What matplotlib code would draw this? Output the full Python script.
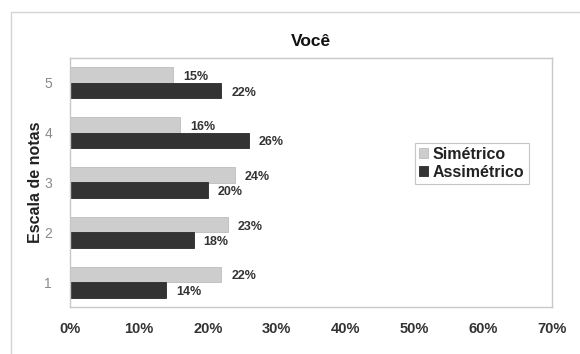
import numpy as np
import matplotlib.pyplot as plt
from matplotlib.patches import Rectangle

plt.rcParams['font.family'] = ['Liberation Sans', 'DejaVu Sans']

# Dados: escala de notas 1..5, percentuais por tipo
notas = [1, 2, 3, 4, 5]
simetrico = [22, 23, 24, 16, 15]
assimetrico = [14, 18, 20, 26, 22]
xticks = [0, 10, 20, 30, 40, 50, 60, 70]

fig = plt.figure(figsize=(5.8, 3.54), dpi=100)
fig.patch.set_facecolor('white')

# moldura externa do grafico
fig.patches.append(Rectangle((11 / 580, -0.05), 1.0, 1 - 12 / 354 + 0.05,
                             transform=fig.transFigure, fill=False,
                             edgecolor='#d4d4d4', linewidth=1.0))

ax = fig.add_axes([70 / 580, 1 - 307 / 354, (552 - 70) / 580, (307 - 58) / 354])

y = np.array(notas, dtype=float)
h = 0.31
ax.barh(y + h / 2, simetrico, height=h, color='#cdcdcd', edgecolor='#bdbdbd',
        linewidth=0.6, label='Simétrico')
ax.barh(y - h / 2, assimetrico, height=h, color='#333333', edgecolor='#2a2a2a',
        linewidth=0.6, label='Assimétrico')

for yi, v in zip(y, simetrico):
    ax.text(v + 1.4, yi + h / 2 - 0.04, f'{v}%', va='center', ha='left',
            fontsize=9, fontweight='bold', color='#333333')
for yi, v in zip(y, assimetrico):
    ax.text(v + 1.4, yi - h / 2 - 0.04, f'{v}%', va='center', ha='left',
            fontsize=9, fontweight='bold', color='#333333')

ax.set_xlim(0, 70)
ax.set_ylim(0.5, 5.5)
ax.set_xticks(xticks)
ax.set_xticklabels([f'{t}%' for t in xticks], fontsize=10.5, fontweight='bold', color='#333333')
ax.set_yticks(notas)
ax.set_yticklabels([str(n) for n in notas], fontsize=10, color='#8a8a8a')
ax.tick_params(axis='x', length=0, pad=11)
ax.tick_params(axis='y', length=0, pad=13)

for s in ax.spines.values():
    s.set_color('#c8c8c8')
    s.set_linewidth(1.0)

ax.set_ylabel('Escala de notas', fontsize=11.5, fontweight='bold', color='#222222')
ax.yaxis.set_label_coords(-0.055, 0.5)
ax.set_title('Você', fontsize=12.5, fontweight='bold', color='#111111', pad=9)

leg = ax.legend(loc='upper left', bbox_to_anchor=(0.715, 0.66), frameon=True,
                fancybox=False, edgecolor='#b8b8b8', fontsize=11.5,
                handlelength=0.6, handleheight=0.6, handletextpad=0.3,
                borderpad=0.25, labelspacing=0.2, borderaxespad=0)
leg.get_frame().set_linewidth(0.8)
for t in leg.get_texts():
    t.set_fontweight('bold')
    t.set_color('#222222')

fig.savefig('out.png', dpi=100)
